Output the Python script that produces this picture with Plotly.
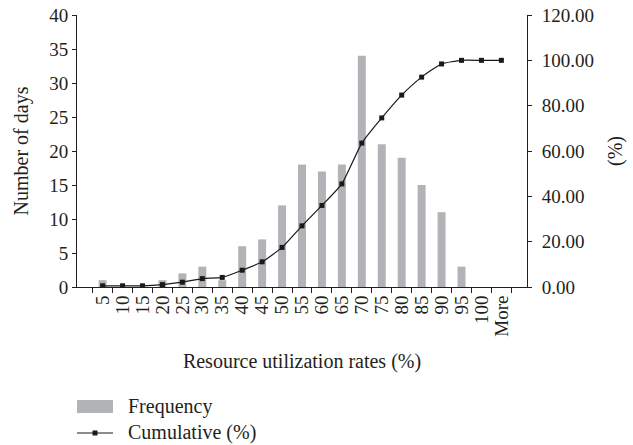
import plotly.graph_objects as go

categories = ["5", "10", "15", "20", "25", "30", "35", "40", "45", "50", "55",
              "60", "65", "70", "75", "80", "85", "90", "95", "100", "More"]
frequency = [1, 0, 0, 1, 2, 3, 1, 6, 7, 12, 18, 17, 18, 34, 21, 19, 15, 11, 3, 0, 0]
cumulative = [0.53, 0.53, 0.53, 1.06, 2.12, 3.70, 4.23, 7.41, 11.11, 17.46, 26.98,
              35.98, 45.50, 63.49, 74.60, 84.66, 92.59, 98.41, 100.0, 100.0, 100.0]
legend_labels = ["Frequency", "Cumulative (%)"]

FONT = "Liberation Serif"
TXT = "#231f20"
BAR = "#b1b3b6"
LINE = "#1a1a1a"

W, H = 633, 445
L, R, T, B = 77, 106, 15, 158
PW, PH = W - L - R, H - T - B


def px(x):
    return (x - L) / PW


def py(y):
    return (H - B - y) / PH


fig = go.Figure()
fig.add_trace(go.Bar(x=categories, y=frequency, name=legend_labels[0],
                     marker=dict(color=BAR, line=dict(width=0)),
                     width=0.4, showlegend=False))
fig.add_trace(go.Scatter(x=categories, y=cumulative, name=legend_labels[1], yaxis="y2",
                         mode="lines+markers",
                         line=dict(color=LINE, width=1.2, shape="spline", smoothing=0.5),
                         marker=dict(symbol="square", size=5, color=LINE),
                         showlegend=False))

shapes = [
    dict(type="rect", xref="paper", yref="paper", x0=px(77), x1=px(113),
         y0=py(400), y1=py(413), fillcolor=BAR, line=dict(width=0)),
    dict(type="line", xref="paper", yref="paper", x0=px(77), x1=px(113),
         y0=py(433), y1=py(433), line=dict(color=LINE, width=1.2)),
    dict(type="rect", xref="paper", yref="paper", x0=px(92.5), x1=px(97.5),
         y0=py(430.5), y1=py(435.5), fillcolor=LINE, line=dict(width=0)),
]
annotations = [
    dict(text=legend_labels[0], xref="paper", yref="paper", x=px(126), y=py(406),
         xanchor="left", yanchor="middle", showarrow=False,
         font=dict(family=FONT, size=20, color=TXT)),
    dict(text=legend_labels[1], xref="paper", yref="paper", x=px(126), y=py(433),
         xanchor="left", yanchor="middle", showarrow=False,
         font=dict(family=FONT, size=20, color=TXT)),
]

fig.update_layout(
    width=W, height=H,
    margin=dict(l=L, r=R, t=T, b=B, autoexpand=False),
    paper_bgcolor="white", plot_bgcolor="white",
    font=dict(family=FONT, size=19, color=TXT),
    showlegend=False, hovermode=False,
    shapes=shapes, annotations=annotations,
    xaxis=dict(type="category", showline=True, linecolor=TXT, linewidth=1,
               tickmode="array", tickvals=categories, ticktext=categories,
               ticks="outside", ticklen=5, tickcolor=TXT, tickson="boundaries",
               tickangle=-90, showgrid=False, zeroline=False, automargin=False,
               title=dict(text="Resource utilization rates (%)", standoff=18,
                          font=dict(family=FONT, size=20, color=TXT)),
               tickfont=dict(family=FONT, size=19, color=TXT)),
    yaxis=dict(range=[0, 40], dtick=5, showline=True, linecolor=TXT, linewidth=1,
               ticks="outside", ticklen=4, tickcolor=TXT, showgrid=False,
               zeroline=False, automargin=False,
               title=dict(text="Number of days", standoff=15,
                          font=dict(family=FONT, size=20, color=TXT)),
               tickfont=dict(family=FONT, size=19, color=TXT)),
    yaxis2=dict(range=[0, 120], dtick=20, tickformat=".2f", overlaying="y", side="right",
                showline=True, linecolor=TXT, linewidth=1,
                ticks="outside", ticklen=4, tickcolor=TXT, showgrid=False,
                zeroline=False, automargin=False, ticklabelstandoff=6,
                title=dict(text="(%)", standoff=14,
                           font=dict(family=FONT, size=20, color=TXT)),
                tickfont=dict(family=FONT, size=19, color=TXT)),
)

fig.write_html("out.html", config={"displayModeBar": False},
               post_script="document.body.style.margin='0';document.body.style.padding='0';")
